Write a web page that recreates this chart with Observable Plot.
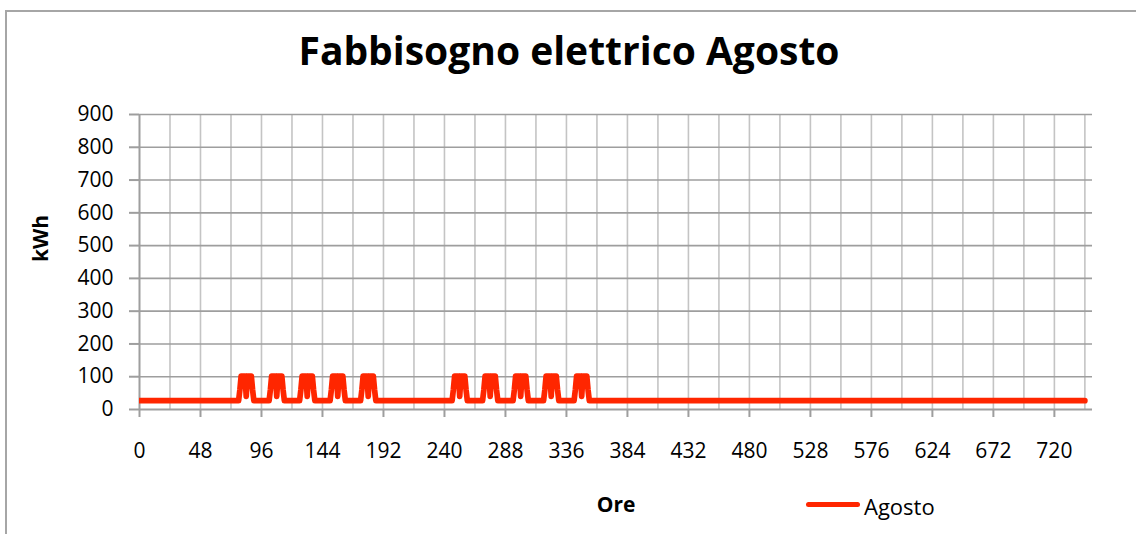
<!DOCTYPE html>
<html>
<head>
<meta charset="utf-8">
<script src="https://cdn.jsdelivr.net/npm/d3@7"></script>
<script src="https://cdn.jsdelivr.net/npm/@observablehq/plot@0.6"></script>
<style>
  html, body { margin: 0; padding: 0; background: #fff; }
  #wrap { position: relative; width: 1136px; height: 534px; overflow: hidden; font-family: "Open Sans", sans-serif; }
  #frame { position: absolute; left: 5px; top: 10px; width: 1200px; height: 600px; border-left: 2px solid #a6a6a6; border-top: 2px solid #a6a6a6; }
  #title { position: absolute; left: 0; width: 1138px; top: 22px; text-align: center; font-weight: 700; font-size: 39px; line-height: 56px; color: #000; }
  #chart { position: absolute; left: 0; top: 0; }
  #legend { position: absolute; left: 806px; top: 491px; display: flex; align-items: center; font-size: 22px; color: #000; }
  #legend .swatch { width: 54px; height: 5px; border-radius: 3px; background: #ff2600; margin-right: 4px; margin-top: -4px; }
</style>
</head>
<body>
<div id="wrap">
  <div id="frame"></div>
  <div id="chart"></div>
  <div id="title"></div>
  <div id="legend"></div>
</div>
<script>
// ---- data ----
const titleText = "Fabbisogno elettrico Agosto";
const xLabel = "Ore";
const yLabel = "kWh";
const seriesName = "Agosto";

// hourly profile of a working day (hour of day 0..23), kWh
const workdayProfile = [27, 27, 27, 27, 27, 27, 27, 60, 102, 102, 102, 102, 40, 102, 102, 102, 102, 60, 27, 27, 27, 27, 27, 27];
// hourly profile of a non-working day, kWh
const offdayProfile = [27, 27, 27, 27, 27, 27, 27, 27, 27, 27, 27, 27, 27, 27, 27, 27, 27, 27, 27, 27, 27, 27, 27, 27];
// day type for each day of August (W = working, O = off), plus closing hour
const dayTypes = ["O","O","O","W","W","W","W","W","O","O","W","W","W","W","W","O","O","O","O","O","O","O","O","O","O","O","O","O","O","O","O","O"];
const lastHour = 744;

const xTicks = [0, 48, 96, 144, 192, 240, 288, 336, 384, 432, 480, 528, 576, 624, 672, 720];
const xGrid = [24, 48, 72, 96, 120, 144, 168, 192, 216, 240, 264, 288, 312, 336, 360, 384, 408, 432, 456, 480, 504, 528, 552, 576, 600, 624, 648, 672, 696, 720, 744];
const yTicks = [0, 100, 200, 300, 400, 500, 600, 700, 800, 900];

// ---- build the hourly table ----
const series = d3.range(0, lastHour + 1).map(h => {
  const day = Math.floor(h / 24), hod = h % 24;
  const profile = dayTypes[day] === "W" ? workdayProfile : offdayProfile;
  return {hour: h, kwh: profile[hod]};
});

const lineColor = "#ff2600";

const chart = Plot.plot({
  width: 1136,
  height: 534,
  marginLeft: 139,
  marginRight: 44,
  marginTop: 114,
  marginBottom: 125,
  style: {fontFamily: "'Open Sans', sans-serif", fontSize: "21px", color: "#000", background: "transparent", overflow: "visible"},
  x: {domain: [0, 750]},
  y: {domain: [0, 900]},
  marks: [
    Plot.gridX(xGrid, {stroke: "#c4c4c4", strokeOpacity: 1, strokeWidth: 1.6}),
    Plot.gridY(yTicks.slice(1), {stroke: "#9e9e9e", strokeOpacity: 1, strokeWidth: 1.6}),
    Plot.ruleY([0], {stroke: "#9e9e9e", strokeWidth: 2}),
    Plot.ruleX([0], {stroke: "#9e9e9e", strokeWidth: 2}),
    Plot.axisY(yTicks, {tickSize: 10, tickPadding: 16, stroke: "#9e9e9e", strokeWidth: 2, fill: "#000", label: null}),
    Plot.axisX(xTicks, {tickSize: 8, tickPadding: 26, stroke: "#9e9e9e", strokeWidth: 2, fill: "#000", label: null}),
    Plot.line(series, {x: "hour", y: "kwh", stroke: lineColor, strokeWidth: 5.7, strokeLinejoin: "round", strokeLinecap: "round", clip: "frame"}),
    Plot.text([yLabel], {frameAnchor: "left", dx: -98, rotate: -90, fontWeight: "bold", fontSize: 21, fill: "#000"}),
    Plot.text([xLabel], {frameAnchor: "bottom", dy: 102, fontWeight: "bold", fontSize: 21, fill: "#000"})
  ]
});
document.getElementById("chart").appendChild(chart);

document.getElementById("title").textContent = titleText;
const legend = document.getElementById("legend");
const sw = document.createElement("span"); sw.className = "swatch"; sw.style.background = lineColor;
const lt = document.createElement("span"); lt.textContent = seriesName;
legend.appendChild(sw); legend.appendChild(lt);
</script>
</body>
</html>
